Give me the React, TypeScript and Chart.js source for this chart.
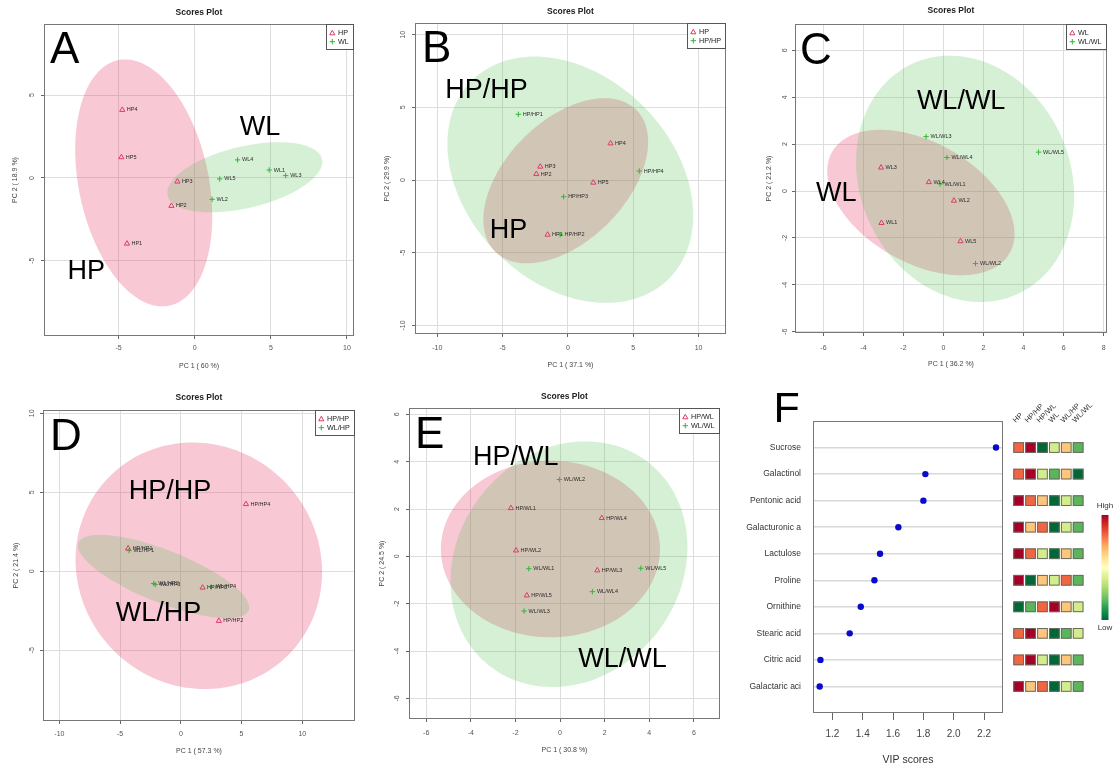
import React, { useEffect, useRef } from 'react';
import { Chart, registerables } from 'chart.js';

Chart.register(...registerables);

const FONT = '"Liberation Sans", Arial, Helvetica, sans-serif';

// ---------------- Panel A: HP vs WL ----------------
const aHpNames = ['HP1', 'HP2', 'HP3', 'HP4', 'HP5'];
const aHpX = [-4.45, -1.53, -1.14, -4.76, -4.82];
const aHpY = [-3.97, -1.69, -0.22, 4.11, 1.25];
const aWlNames = ['WL1', 'WL2', 'WL3', 'WL4', 'WL5'];
const aWlX = [4.89, 1.14, 5.97, 2.81, 1.64];
const aWlY = [0.48, -1.29, 0.14, 1.09, -0.06];
// ellipse: [centerX, centerY, halfWidth, halfHeight, correlation]
const aHpEllipse = [-3.35, -0.3, 4.5, 7.46, -0.27];
const aWlEllipse = [3.29, 0.04, 5.09, 2.12, 0.44];
const aXTicks = [-5, 0, 5, 10];
const aYTicks = [-5, 0, 5];

// ---------------- Panel B: HP vs HP/HP ----------------
const bHpNames = ['HP1', 'HP2', 'HP3', 'HP4', 'HP5'];
const bHpX = [-1.56, -2.42, -2.12, 3.26, 1.94];
const bHpY = [-3.76, 0.41, 0.92, 2.52, -0.18];
const bHpHpNames = ['HP/HP1', 'HP/HP2', 'HP/HP3', 'HP/HP4'];
const bHpHpX = [-3.8, -0.6, -0.33, 5.46];
const bHpHpY = [4.52, -3.76, -1.15, 0.62];
const bHpEllipse = [-0.17, -0.05, 6.31, 5.68, 0.47];
const bHpHpEllipse = [0.18, 0.02, 9.41, 8.47, -0.29];
const bXTicks = [-10, -5, 0, 5, 10];
const bYTicks = [-10, -5, 0, 5, 10];

// ---------------- Panel C: WL vs WL/WL ----------------
const cWlNames = ['WL1', 'WL2', 'WL3', 'WL4', 'WL5'];
const cWlX = [-3.1, 0.52, -3.12, -0.73, 0.85];
const cWlY = [-1.36, -0.41, 1.0, 0.38, -2.14];
const cWlWlNames = ['WL/WL1', 'WL/WL2', 'WL/WL3', 'WL/WL4', 'WL/WL5'];
const cWlWlX = [-0.17, 1.6, -0.87, 0.17, 4.75];
const cWlWlY = [0.3, -3.09, 2.32, 1.43, 1.66];
const cWlEllipse = [-1.13, -0.49, 4.68, 3.1, -0.43];
const cWlWlEllipse = [1.08, 0.52, 5.45, 5.25, -0.14];
const cXTicks = [-6, -4, -2, 0, 2, 4, 6, 8];
const cYTicks = [-6, -4, -2, 0, 2, 4, 6];

// ---------------- Panel D: HP/HP vs WL/HP ----------------
const dHpHpNames = ['HP/HP1', 'HP/HP2', 'HP/HP3', 'HP/HP4'];
const dHpHpX = [-4.34, 3.13, 1.79, 5.36];
const dHpHpY = [1.44, -3.15, -1.04, 4.25];
const dWlHpNames = ['WL/HP1', 'WL/HP2', 'WL/HP3', 'WL/HP4'];
const dWlHpX = [-4.26, -2.23, -2.1, 2.5];
const dWlHpY = [1.3, -0.78, -0.85, -1.0];
const dHpHpEllipse = [1.48, 0.34, 10.15, 7.81, -0.05];
const dWlHpEllipse = [-1.42, -0.34, 7.05, 2.64, -0.74];
const dXTicks = [-10, -5, 0, 5, 10];
const dYTicks = [-5, 0, 5, 10];

// ---------------- Panel E: HP/WL vs WL/WL ----------------
const eHpWlNames = ['HP/WL1', 'HP/WL2', 'HP/WL3', 'HP/WL4', 'HP/WL5'];
const eHpWlX = [-2.2, -1.97, 1.67, 1.87, -1.49];
const eHpWlY = [2.04, 0.25, -0.59, 1.62, -1.65];
const eWlWlNames = ['WL/WL1', 'WL/WL2', 'WL/WL3', 'WL/WL4', 'WL/WL5'];
const eWlWlX = [-1.4, -0.03, -1.61, 1.45, 3.62];
const eWlWlY = [-0.52, 3.25, -2.31, -1.49, -0.5];
const eHpWlEllipse = [-0.43, 0.31, 4.91, 3.73, 0.0];
const eWlWlEllipse = [0.4, -0.33, 5.31, 5.19, 0.14];
const eXTicks = [-6, -4, -2, 0, 2, 4, 6];
const eYTicks = [-6, -4, -2, 0, 2, 4, 6];

// ---------------- Panel F: VIP scores + heatmap ----------------
const vipNames = ['Sucrose', 'Galactinol', 'Pentonic acid', 'Galacturonic a', 'Lactulose', 'Proline', 'Ornithine', 'Stearic acid', 'Citric acid', 'Galactaric aci'];
const vipScores = [2.279, 1.813, 1.8, 1.635, 1.514, 1.477, 1.387, 1.314, 1.121, 1.116];
const vipTicks = [1.2, 1.4, 1.6, 1.8, 2.0, 2.2];
const heatGroups = ['HP', 'HP/HP', 'HP/WL', 'WL', 'WL/HP', 'WL/WL'];
// relative level 1 (low) .. 6 (high)
const heatSucrose = [5, 6, 1, 3, 4, 2];
const heatGalactinol = [5, 6, 3, 2, 4, 1];
const heatPentonic = [6, 5, 4, 1, 3, 2];
const heatGalacturonic = [6, 4, 5, 1, 3, 2];
const heatLactulose = [6, 5, 3, 1, 4, 2];
const heatProline = [6, 1, 4, 3, 5, 2];
const heatOrnithine = [1, 2, 5, 6, 4, 3];
const heatStearic = [5, 6, 4, 1, 2, 3];
const heatCitric = [5, 6, 3, 1, 4, 2];
const heatGalactaric = [6, 4, 5, 1, 3, 2];
const heatRows = [heatSucrose, heatGalactinol, heatPentonic, heatGalacturonic, heatLactulose, heatProline, heatOrnithine, heatStearic, heatCitric, heatGalactaric];

// ---------------- styles ----------------
const PINK_FILL = 'rgba(230,50,100,0.27)';
const GREEN_FILL = 'rgba(70,185,70,0.22)';
const PINK_PT = '#DF3A6C';
const GREEN_PT = '#35B535';
const GRID = '#DEDEDE';
const HEAT_COLORS = ['', '#006837', '#5AB55B', '#D4ED8C', '#FDC67C', '#F06642', '#A50026'];
const RDYLGN = ['#A50026', '#D73027', '#F46D43', '#FDAE61', '#FEE08B', '#FFFFBF', '#D9EF8B', '#A6D96A', '#66BD63', '#1A9850', '#006837'];

type Frame = {
  w: number; h: number; L: number; T: number; R: number; B: number;
  ytickX: number; ytitleX: number; xtickY: number; xtitleY: number; titleY: number;
  letterDx: number; letterDy: number;
};

type Group = { label: string; names: string[]; xs: number[]; ys: number[]; ellipse: number[] };

type Panel = {
  letter: string; xTitle: string; yTitle: string;
  xMin: number; xMax: number; yMin: number; yMax: number;
  xTicks: number[]; yTicks: number[];
  g1: Group; g2: Group;
  notes: { text: string; x: number; y: number }[];
  frame: Frame;
};

const panels: { left: number; top: number; p: Panel }[] = [
  {
    left: 0, top: 0,
    p: {
      letter: 'A', xTitle: 'PC 1 ( 60 %)', yTitle: 'PC 2 ( 18.9 %)',
      xMin: -9.9, xMax: 10.46, yMin: -9.55, yMax: 9.3, xTicks: aXTicks, yTicks: aYTicks,
      g1: { label: 'HP', names: aHpNames, xs: aHpX, ys: aHpY, ellipse: aHpEllipse },
      g2: { label: 'WL', names: aWlNames, xs: aWlX, ys: aWlY, ellipse: aWlEllipse },
      notes: [{ text: 'WL', x: 2.96, y: 2.6 }, { text: 'HP', x: -8.36, y: -6.11 }],
      frame: { w: 370, h: 380, L: 44, T: 24, R: 354, B: 336, ytickX: 32, ytitleX: 15, xtickY: 348, xtitleY: 366, titleY: 13, letterDx: 6, letterDy: 39 },
    },
  },
  {
    left: 370, top: 0,
    p: {
      letter: 'B', xTitle: 'PC 1 ( 37.1 %)', yTitle: 'PC 2 ( 29.9 %)',
      xMin: -11.71, xMax: 12.1, yMin: -10.59, yMax: 10.8, xTicks: bXTicks, yTicks: bYTicks,
      g1: { label: 'HP', names: bHpNames, xs: bHpX, ys: bHpY, ellipse: bHpEllipse },
      g2: { label: 'HP/HP', names: bHpHpNames, xs: bHpHpX, ys: bHpHpY, ellipse: bHpHpEllipse },
      notes: [{ text: 'HP/HP', x: -9.39, y: 5.64 }, { text: 'HP', x: -5.99, y: -3.99 }],
      frame: { w: 370, h: 380, L: 45, T: 23, R: 356, B: 334, ytickX: 33, ytitleX: 17, xtickY: 348, xtitleY: 365, titleY: 12, letterDx: 7, letterDy: 39 },
    },
  },
  {
    left: 740, top: 0,
    p: {
      letter: 'C', xTitle: 'PC 1 ( 36.2 %)', yTitle: 'PC 2 ( 21.2 %)',
      xMin: -7.42, xMax: 8.17, yMin: -6.05, yMax: 7.12, xTicks: cXTicks, yTicks: cYTicks,
      g1: { label: 'WL', names: cWlNames, xs: cWlX, ys: cWlY, ellipse: cWlEllipse },
      g2: { label: 'WL/WL', names: cWlWlNames, xs: cWlWlX, ys: cWlWlY, ellipse: cWlWlEllipse },
      notes: [{ text: 'WL/WL', x: -1.33, y: 3.49 }, { text: 'WL', x: -6.37, y: -0.43 }],
      frame: { w: 380, h: 380, L: 55, T: 24, R: 367, B: 333, ytickX: 45, ytitleX: 29, xtickY: 348, xtitleY: 364, titleY: 11, letterDx: 5, letterDy: 40 },
    },
  },
  {
    left: 0, top: 380,
    p: {
      letter: 'D', xTitle: 'PC 1 ( 57.3 %)', yTitle: 'PC 2 ( 21.4 %)',
      xMin: -11.35, xMax: 14.34, yMin: -9.49, yMax: 10.21, xTicks: dXTicks, yTicks: dYTicks,
      g1: { label: 'HP/HP', names: dHpHpNames, xs: dHpHpX, ys: dHpHpY, ellipse: dHpHpEllipse },
      g2: { label: 'WL/HP', names: dWlHpNames, xs: dWlHpX, ys: dWlHpY, ellipse: dWlHpEllipse },
      notes: [{ text: 'HP/HP', x: -4.29, y: 4.55 }, { text: 'WL/HP', x: -5.36, y: -3.17 }],
      frame: { w: 370, h: 388, L: 43, T: 30, R: 355, B: 341, ytickX: 32, ytitleX: 16, xtickY: 354, xtitleY: 371, titleY: 18, letterDx: 7, letterDy: 40 },
    },
  },
  {
    left: 370, top: 380,
    p: {
      letter: 'E', xTitle: 'PC 1 ( 30.8 %)', yTitle: 'PC 2 ( 24.5 %)',
      xMin: -6.77, xMax: 7.17, yMin: -6.87, yMax: 6.27, xTicks: eXTicks, yTicks: eYTicks,
      g1: { label: 'HP/WL', names: eHpWlNames, xs: eHpWlX, ys: eHpWlY, ellipse: eHpWlEllipse },
      g2: { label: 'WL/WL', names: eWlWlNames, xs: eWlWlX, ys: eWlWlY, ellipse: eWlWlEllipse },
      notes: [{ text: 'HP/WL', x: -3.9, y: 3.87 }, { text: 'WL/WL', x: 0.82, y: -4.67 }],
      frame: { w: 370, h: 388, L: 39, T: 28, R: 350, B: 339, ytickX: 27, ytitleX: 12, xtickY: 353, xtitleY: 370, titleY: 17, letterDx: 6, letterDy: 40 },
    },
  },
];

function ellipsePath(ctx: CanvasRenderingContext2D, xs: any, ys: any, e: number[]) {
  const [cx, cy, hx, hy, r] = e;
  const s = Math.sqrt(1 - r * r);
  ctx.beginPath();
  const n = 160;
  for (let i = 0; i <= n; i++) {
    const t = (i / n) * Math.PI * 2;
    const px = xs.getPixelForValue(cx + hx * Math.cos(t));
    const py = ys.getPixelForValue(cy + hy * (r * Math.cos(t) + s * Math.sin(t)));
    if (i === 0) ctx.moveTo(px, py);
    else ctx.lineTo(px, py);
  }
  ctx.closePath();
}

function drawMarker(ctx: CanvasRenderingContext2D, kind: 'triangle' | 'cross', x: number, y: number, color: string) {
  ctx.save();
  ctx.strokeStyle = color;
  ctx.lineWidth = 1;
  ctx.beginPath();
  if (kind === 'triangle') {
    const r = 3;
    ctx.moveTo(x, y - r);
    ctx.lineTo(x + r * 0.866, y + r / 2);
    ctx.lineTo(x - r * 0.866, y + r / 2);
    ctx.closePath();
  } else {
    const r = 2.7;
    ctx.moveTo(x - r, y);
    ctx.lineTo(x + r, y);
    ctx.moveTo(x, y - r);
    ctx.lineTo(x, y + r);
  }
  ctx.stroke();
  ctx.restore();
}

function buildPca(canvas: HTMLCanvasElement, p: Panel) {
  const f = p.frame;
  const fs = 7;
  const lh = fs * 1.2;
  const mk = (g: Group, style: string, color: string) => ({
    label: g.label,
    data: g.xs.map((x, i) => ({ x, y: g.ys[i] })),
    pointStyle: style,
    pointRadius: style === 'triangle' ? 3 : 2.7,
    pointHoverRadius: style === 'triangle' ? 3 : 2.7,
    pointBorderWidth: 1,
    borderColor: color,
    backgroundColor: 'rgba(0,0,0,0)',
  });

  const plugin = {
    id: 'pca' + p.letter,
    beforeDatasetsDraw(chart: any) {
      const { ctx, chartArea: a, scales } = chart;
      ctx.save();
      ctx.beginPath();
      ctx.rect(a.left, a.top, a.right - a.left, a.bottom - a.top);
      ctx.clip();
      ellipsePath(ctx, scales.x, scales.y, p.g1.ellipse);
      ctx.fillStyle = PINK_FILL;
      ctx.fill();
      ellipsePath(ctx, scales.x, scales.y, p.g2.ellipse);
      ctx.fillStyle = GREEN_FILL;
      ctx.fill();
      ctx.restore();
    },
    afterDatasetsDraw(chart: any) {
      const { ctx, chartArea: a, scales } = chart;
      ctx.save();
      ctx.font = `5.5px ${FONT}`;
      ctx.fillStyle = '#2a2a2a';
      ctx.textAlign = 'left';
      ctx.textBaseline = 'middle';
      [p.g1, p.g2].forEach((g, di) => {
        const meta = chart.getDatasetMeta(di);
        meta.data.forEach((pt: any, i: number) => {
          ctx.fillText(g.names[i], pt.x + 4.5, pt.y);
        });
      });
      ctx.fillStyle = '#000';
      ctx.textBaseline = 'alphabetic';
      ctx.font = `27px ${FONT}`;
      p.notes.forEach((n) => {
        ctx.fillText(n.text, scales.x.getPixelForValue(n.x), scales.y.getPixelForValue(n.y));
      });
      ctx.font = `44px ${FONT}`;
      ctx.fillText(p.letter, a.left + f.letterDx, a.top + f.letterDy);
      ctx.restore();
    },
    afterDraw(chart: any) {
      const { ctx, chartArea: a, scales } = chart;
      ctx.save();
      // plot box
      ctx.strokeStyle = '#777';
      ctx.lineWidth = 1;
      ctx.strokeRect(a.left + 0.5, a.top + 0.5, a.right - a.left - 1, a.bottom - a.top - 1);
      // title
      ctx.fillStyle = '#222';
      ctx.font = `bold 8.5px ${FONT}`;
      ctx.textAlign = 'center';
      ctx.textBaseline = 'middle';
      ctx.fillText('Scores Plot', (a.left + a.right) / 2, f.titleY);
      // rotated y tick labels
      ctx.fillStyle = '#555';
      ctx.font = `${fs}px ${FONT}`;
      scales.y.ticks.forEach((t: any) => {
        const py = scales.y.getPixelForValue(t.value);
        ctx.save();
        ctx.translate(f.ytickX, py);
        ctx.rotate(-Math.PI / 2);
        ctx.fillText(String(t.label), 0, 0);
        ctx.restore();
      });
      // legend
      const lfs = 7.2;
      ctx.font = `${lfs}px ${FONT}`;
      const labels = [p.g1.label, p.g2.label];
      const tw = Math.max(...labels.map((l) => ctx.measureText(l).width));
      const bw = Math.round(14 + tw + 3);
      const bh = 26;
      const bx = a.right - bw;
      const by = a.top;
      ctx.fillStyle = '#fff';
      ctx.fillRect(bx, by, bw, bh);
      ctx.strokeStyle = '#555';
      ctx.strokeRect(bx + 0.5, by + 0.5, bw - 1, bh - 1);
      ctx.textAlign = 'left';
      ctx.textBaseline = 'middle';
      drawMarker(ctx, 'triangle', bx + 6.3, by + 9.3, PINK_PT);
      drawMarker(ctx, 'cross', bx + 6.3, by + 17.7, GREEN_PT);
      ctx.fillStyle = '#222';
      ctx.fillText(labels[0], bx + 12, by + 9);
      ctx.fillText(labels[1], bx + 12, by + 17.7);
      ctx.restore();
    },
  };

  return new Chart(canvas, {
    type: 'scatter',
    data: { datasets: [mk(p.g1, 'triangle', PINK_PT), mk(p.g2, 'cross', GREEN_PT)] as any },
    options: {
      animation: false,
      responsive: false,
      maintainAspectRatio: false,
      events: [],
      layout: {
        padding: {
          left: f.ytitleX - lh / 2,
          top: f.T,
          right: f.w - f.R,
          bottom: f.h - (f.xtitleY + lh / 2),
        },
      },
      plugins: { legend: { display: false }, tooltip: { enabled: false }, title: { display: false } },
      scales: {
        x: {
          type: 'linear',
          min: p.xMin,
          max: p.xMax,
          afterBuildTicks: (s: any) => { s.ticks = p.xTicks.map((v) => ({ value: v })); },
          afterFit: (s: any) => { s.height = f.xtitleY + lh / 2 - f.B; },
          grid: { color: GRID, drawTicks: true, tickLength: 3, tickColor: '#666' },
          border: { display: false },
          ticks: { font: { size: fs, family: FONT }, color: '#555', padding: f.xtickY - f.B - 3 - lh / 2, maxRotation: 0, autoSkip: false },
          title: { display: true, text: p.xTitle, font: { size: fs, family: FONT }, color: '#444', padding: 0 },
        },
        y: {
          type: 'linear',
          min: p.yMin,
          max: p.yMax,
          afterBuildTicks: (s: any) => { s.ticks = p.yTicks.map((v) => ({ value: v })); },
          afterFit: (s: any) => { s.width = f.L - (f.ytitleX - lh / 2); },
          grid: { color: GRID, drawTicks: true, tickLength: 3, tickColor: '#666' },
          border: { display: false },
          ticks: { display: false },
          title: { display: true, text: p.yTitle, font: { size: fs, family: FONT }, color: '#444', padding: 0 },
        },
      },
    } as any,
    plugins: [plugin as any],
  });
}

function buildVip(canvas: HTMLCanvasElement) {
  const W = 380, H = 388, L = 73, T = 41, R = 263, B = 333;
  const titleLh = 10.5 * 1.2;
  const tickLh = 10 * 1.2;
  const plugin = {
    id: 'vipHeat',
    afterDraw(chart: any) {
      const { ctx, chartArea: a, scales } = chart;
      ctx.save();
      ctx.strokeStyle = '#777';
      ctx.lineWidth = 1;
      ctx.strokeRect(a.left + 0.5, a.top + 0.5, a.right - a.left - 1, a.bottom - a.top - 1);
      // panel letter
      ctx.fillStyle = '#000';
      ctx.font = `43px ${FONT}`;
      ctx.textBaseline = 'alphabetic';
      ctx.textAlign = 'left';
      ctx.fillText('F', a.left - 39.5, a.top + 1);
      // heatmap cells
      const x0 = a.right + 10.3;
      const pitch = 11.9;
      const cw = 10.7;
      heatRows.forEach((row, i) => {
        const cy = scales.y.getPixelForValue(i);
        row.forEach((lvl, j) => {
          const cx = x0 + j * pitch;
          ctx.fillStyle = HEAT_COLORS[lvl];
          ctx.fillRect(cx, cy - cw / 2, cw, cw);
          ctx.strokeStyle = '#6a6a60';
          ctx.lineWidth = 1;
          ctx.strokeRect(cx + 0.5, cy - cw / 2 + 0.5, cw - 1, cw - 1);
        });
      });
      // column labels
      ctx.fillStyle = '#333';
      ctx.font = `7.5px ${FONT}`;
      heatGroups.forEach((g, j) => {
        ctx.save();
        ctx.translate(x0 + j * pitch + 2.5, a.top + 2);
        ctx.rotate(-Math.PI / 4);
        ctx.textAlign = 'left';
        ctx.textBaseline = 'alphabetic';
        ctx.fillText(g, 0, 0);
        ctx.restore();
      });
      // color bar
      const bx = a.right + 98.5;
      const btop = a.top + 94;
      const bbot = a.top + 199;
      const grad = ctx.createLinearGradient(0, btop, 0, bbot);
      RDYLGN.forEach((c, k) => grad.addColorStop(k / (RDYLGN.length - 1), c));
      ctx.fillStyle = grad;
      ctx.fillRect(bx, btop, 7, bbot - btop);
      ctx.fillStyle = '#333';
      ctx.font = `8px ${FONT}`;
      ctx.textAlign = 'center';
      ctx.textBaseline = 'middle';
      ctx.fillText('High', bx + 3.5, a.top + 85);
      ctx.fillText('Low', bx + 3.5, a.top + 207);
      ctx.restore();
    },
  };
  return new Chart(canvas, {
    type: 'scatter',
    data: {
      datasets: [
        {
          label: 'VIP scores',
          data: vipScores.map((v, i) => ({ x: v, y: i })),
          pointRadius: 3.2,
          pointHoverRadius: 3.2,
          backgroundColor: '#0A0ACD',
          borderColor: '#0A0ACD',
          pointBorderWidth: 0,
        },
      ],
    },
    options: {
      animation: false,
      responsive: false,
      maintainAspectRatio: false,
      events: [],
      layout: { padding: { left: 2, top: T, right: W - R, bottom: H - (380 + titleLh / 2) } },
      plugins: { legend: { display: false }, tooltip: { enabled: false } },
      scales: {
        x: {
          type: 'linear',
          min: 1.072,
          max: 2.325,
          afterBuildTicks: (s: any) => { s.ticks = vipTicks.map((v) => ({ value: v })); },
          afterFit: (s: any) => { s.height = 380 + titleLh / 2 - B; },
          grid: { drawOnChartArea: false, drawTicks: true, tickLength: 7, tickColor: '#666' },
          border: { display: false },
          ticks: { font: { size: 10, family: FONT }, color: '#444', padding: 354 - B - 7 - tickLh / 2, maxRotation: 0, autoSkip: false, callback: (v: any) => Number(v).toFixed(1) },
          title: { display: true, text: 'VIP scores', font: { size: 10.5, family: FONT }, color: '#333', padding: 0 },
        },
        y: {
          type: 'linear',
          min: -1,
          max: 10,
          reverse: true,
          afterBuildTicks: (s: any) => { s.ticks = vipNames.map((_, i) => ({ value: i })); },
          afterFit: (s: any) => { s.width = L - 2; },
          grid: { color: '#D8D8D8', lineWidth: 1.5, drawTicks: false },
          border: { display: false },
          ticks: { font: { size: 8.5, family: FONT }, color: '#333', padding: 12, autoSkip: false, callback: (v: any) => vipNames[v] ?? '' },
        },
      },
    } as any,
    plugins: [plugin as any],
  });
}

function ChartCanvas({ left, top, width, height, build }: { left: number; top: number; width: number; height: number; build: (c: HTMLCanvasElement) => Chart }) {
  const ref = useRef<HTMLCanvasElement>(null);
  useEffect(() => {
    const chart = build(ref.current as HTMLCanvasElement);
    return () => chart.destroy();
  }, []);
  return (
    <canvas
      ref={ref}
      width={width}
      height={height}
      style={{ position: 'absolute', left, top, width, height, display: 'block' }}
    />
  );
}

export default function App() {
  return (
    <div style={{ position: 'absolute', left: 0, top: 0, width: 1120, height: 768, background: '#fff', overflow: 'hidden' }}>
      {panels.map((pn) => (
        <ChartCanvas
          key={pn.p.letter}
          left={pn.left}
          top={pn.top}
          width={pn.p.frame.w}
          height={pn.p.frame.h}
          build={(c) => buildPca(c, pn.p)}
        />
      ))}
      <ChartCanvas left={740} top={380} width={380} height={388} build={buildVip} />
    </div>
  );
}
